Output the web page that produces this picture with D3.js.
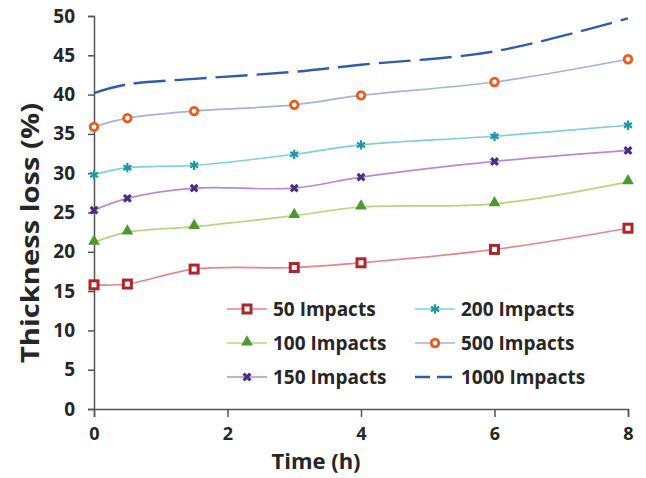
<!DOCTYPE html>
<html>
<head>
<meta charset="utf-8">
<script src="https://cdn.jsdelivr.net/npm/d3@7"></script>
<style>
  body { margin: 0; background: #fff; }
  text { font-family: "Open Sans", Lato, sans-serif; font-weight: bold; fill: #262626; }
</style>
</head>
<body>
<div id="chart"></div>
<script>
// time points (h)
var times = [0, 0.5, 1.5, 3, 4, 6, 8];

// thickness loss (%) per impact count
var impacts50 = [15.8, 15.9, 17.8, 18.0, 18.6, 20.3, 23.0];
var impacts100 = [21.2, 22.5, 23.2, 24.6, 25.7, 26.1, 28.9];
var impacts150 = [25.3, 26.8, 28.1, 28.1, 29.5, 31.5, 32.9];
var impacts200 = [29.8, 30.7, 31.0, 32.4, 33.6, 34.7, 36.1];
var impacts500 = [35.9, 37.0, 37.9, 38.7, 39.9, 41.6, 44.5];
var impacts1000 = [40.2, 41.3, 42.0, 42.9, 43.8, 45.5, 49.7];

var xTicks = [0, 2, 4, 6, 8];
var yTicks = [0, 5, 10, 15, 20, 25, 30, 35, 40, 45, 50];

var series = [
    {name: "50 Impacts", values: impacts50, line: "#e98585", mark: "#b0252a", shape: "square"},
    {name: "100 Impacts", values: impacts100, line: "#b3d87a", mark: "#4f9a2e", shape: "triangle"},
    {name: "150 Impacts", values: impacts150, line: "#b98ad4", mark: "#4a2d86", shape: "cross"},
    {name: "200 Impacts", values: impacts200, line: "#7fcfdc", mark: "#1b97a6", shape: "star"},
    {name: "500 Impacts", values: impacts500, line: "#a3b3dd", mark: "#f0591a", shape: "circle"},
    {name: "1000 Impacts", values: impacts1000, line: "#2f5ea8", mark: null, shape: "none"}
];

var width = 646, height = 478;
var margin = {top: 16, right: 18, bottom: 69, left: 94};

var svg = d3.select("#chart").append("svg")
    .attr("width", width)
    .attr("height", height);

var x = d3.scaleLinear()
    .domain([0, 8])
    .range([margin.left, width - margin.right]);

var y = d3.scaleLinear()
    .domain([0, 50])
    .range([height - margin.bottom, margin.top]);

// axes
var gx = svg.append("g")
    .attr("transform", "translate(0," + y(0) + ")")
    .call(d3.axisBottom(x).tickValues(xTicks).tickSize(8).tickPadding(10).tickFormat(d3.format("d")));
gx.select(".domain").attr("stroke", "#555").attr("stroke-width", 1.5);
gx.selectAll(".tick line").attr("stroke", "#555").attr("stroke-width", 1.5);
gx.selectAll("text").style("font-size", "18px");

var gy = svg.append("g")
    .attr("transform", "translate(" + x(0) + ",0)")
    .call(d3.axisLeft(y).tickValues(yTicks).tickSize(6).tickPadding(13));
gy.select(".domain").attr("stroke", "#555").attr("stroke-width", 1.5);
gy.selectAll(".tick line").attr("stroke", "#555").attr("stroke-width", 1.5);
gy.selectAll("text").style("font-size", "19px");

svg.append("text")
    .attr("x", 316)
    .attr("y", 469)
    .attr("text-anchor", "middle")
    .style("font-size", "22px")
    .text("Time (h)");

svg.append("text")
    .attr("transform", "translate(39,233) rotate(-90)")
    .attr("text-anchor", "middle")
    .attr("textLength", 260)
    .attr("lengthAdjust", "spacingAndGlyphs")
    .style("font-size", "25px")
    .text("Thickness loss (%)");

var line = d3.line()
    .x(function (d) { return x(d.t); })
    .y(function (d) { return y(d.v); })
    .curve(d3.curveCatmullRom.alpha(0.5));

function drawMarker(g, s, cx, cy) {
    if (s.shape == "square") {
        g.append("rect").attr("x", cx - 4).attr("y", cy - 4).attr("width", 8).attr("height", 8)
            .attr("fill", "#fff").attr("stroke", s.mark).attr("stroke-width", 3);
    } else if (s.shape == "triangle") {
        g.append("path").attr("d", d3.symbol(d3.symbolTriangle, 60)())
            .attr("transform", "translate(" + cx + "," + (cy - 1) + ")")
            .attr("fill", s.mark);
    } else if (s.shape == "cross") {
        g.append("path").attr("d", d3.symbol(d3.symbolCross, 50)())
            .attr("transform", "translate(" + cx + "," + cy + ") rotate(45)")
            .attr("fill", s.mark);
    } else if (s.shape == "star") {
        g.append("path").attr("d", d3.symbol(d3.symbolAsterisk, 60)())
            .attr("transform", "translate(" + cx + "," + cy + ")")
            .attr("fill", "none").attr("stroke", s.mark).attr("stroke-width", 2.2);
    } else if (s.shape == "circle") {
        g.append("circle").attr("cx", cx).attr("cy", cy).attr("r", 3.8)
            .attr("fill", "#fff").attr("stroke", s.mark).attr("stroke-width", 2.8);
    }
}

series.forEach(function (s) {
    var pts = times.map(function (t, i) { return {t: t, v: s.values[i]}; });
    var g = svg.append("g");
    var path = g.append("path")
        .attr("d", line(pts))
        .attr("fill", "none")
        .attr("stroke", s.line)
        .attr("stroke-width", s.mark ? 1.7 : 2.4);
    if (!s.mark) path.attr("stroke-dasharray", "32,9");
    pts.forEach(function (p) { drawMarker(g, s, x(p.t), y(p.v)); });
});

// legend, two columns of three
var legend = svg.append("g");
series.forEach(function (s, i) {
    var col = Math.floor(i / 3), row = i % 3;
    var lx = 227 + col * 188, ly = 309 + row * 34;
    var g = legend.append("g");
    g.append("line")
        .attr("x1", lx).attr("x2", lx + 40)
        .attr("y1", ly).attr("y2", ly)
        .attr("stroke", s.line)
        .attr("stroke-width", s.mark ? 1.7 : 2.4)
        .attr("stroke-dasharray", s.mark ? null : "15,7");
    drawMarker(g, s, lx + 20, ly);
    g.append("text")
        .attr("x", lx + 46)
        .attr("y", ly)
        .attr("dy", "0.35em")
        .style("font-size", "19px")
        .text(s.name);
});
</script>
</body>
</html>
